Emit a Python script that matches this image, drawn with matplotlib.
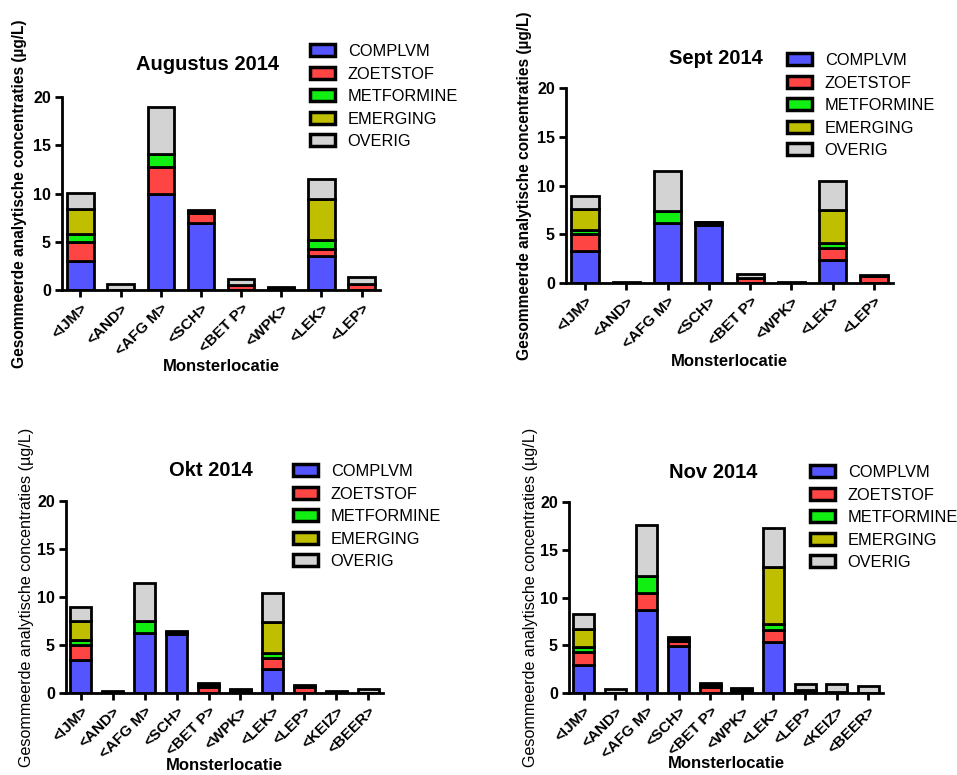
import numpy as np
import matplotlib
matplotlib.use('Agg')
import matplotlib.pyplot as plt
from matplotlib.patches import Patch

plt.rcParams['font.family'] = ['Liberation Sans', 'DejaVu Sans']

# Categories and series
groups = ['COMPLVM', 'ZOETSTOF', 'METFORMINE', 'EMERGING', 'OVERIG']
colors = ['#5555FF', '#FF4444', '#11EE11', '#BFBF00', '#D3D3D3']

loc8 = ['<IJM>', '<AND>', '<AFG M>', '<SCH>', '<BET P>', '<WPK>', '<LEK>', '<LEP>']
loc10 = loc8 + ['<KEIZ>', '<BEER>']

# Augustus 2014
aug_complvm = [3.0, 0.0, 10.0, 6.9, 0.05, 0.1, 3.5, 0.0]
aug_zoetstof = [2.0, 0.05, 2.7, 1.05, 0.45, 0.1, 0.8, 0.6]
aug_metformine = [0.8, 0.0, 1.4, 0.1, 0.0, 0.0, 0.9, 0.0]
aug_emerging = [2.6, 0.0, 0.0, 0.1, 0.0, 0.0, 4.25, 0.0]
aug_overig = [1.7, 0.55, 4.9, 0.15, 0.6, 0.1, 2.05, 0.7]

# Sept 2014
sep_complvm = [3.3, 0.0, 6.15, 6.0, 0.05, 0.0, 2.4, 0.0]
sep_zoetstof = [1.7, 0.05, 0.05, 0.1, 0.45, 0.05, 1.2, 0.7]
sep_metformine = [0.45, 0.0, 1.15, 0.1, 0.0, 0.0, 0.5, 0.0]
sep_emerging = [2.1, 0.0, 0.0, 0.05, 0.0, 0.0, 3.35, 0.0]
sep_overig = [1.35, 0.05, 4.15, 0.05, 0.4, 0.05, 3.05, 0.1]

# Okt 2014
okt_complvm = [3.45, 0.0, 6.2, 6.1, 0.05, 0.1, 2.5, 0.0, 0.0, 0.0]
okt_zoetstof = [1.55, 0.1, 0.05, 0.1, 0.55, 0.1, 1.1, 0.65, 0.1, 0.0]
okt_metformine = [0.5, 0.0, 1.2, 0.1, 0.1, 0.1, 0.55, 0.0, 0.0, 0.0]
okt_emerging = [2.0, 0.0, 0.0, 0.05, 0.1, 0.0, 3.2, 0.0, 0.0, 0.0]
okt_overig = [1.5, 0.1, 4.05, 0.1, 0.2, 0.1, 3.1, 0.15, 0.1, 0.4]

# Nov 2014
nov_complvm = [2.9, 0.0, 8.7, 4.9, 0.05, 0.1, 5.3, 0.0, 0.0, 0.0]
nov_zoetstof = [1.4, 0.0, 1.75, 0.5, 0.55, 0.1, 1.3, 0.3, 0.05, 0.0]
nov_metformine = [0.5, 0.0, 1.75, 0.15, 0.1, 0.1, 0.6, 0.0, 0.05, 0.0]
nov_emerging = [1.9, 0.0, 0.0, 0.1, 0.1, 0.1, 5.95, 0.0, 0.0, 0.0]
nov_overig = [1.55, 0.4, 5.35, 0.2, 0.25, 0.15, 4.1, 0.6, 0.8, 0.75]

panels = [
    ('Augustus 2014', loc8, [aug_complvm, aug_zoetstof, aug_metformine, aug_emerging, aug_overig]),
    ('Sept 2014', loc8, [sep_complvm, sep_zoetstof, sep_metformine, sep_emerging, sep_overig]),
    ('Okt 2014', loc10, [okt_complvm, okt_zoetstof, okt_metformine, okt_emerging, okt_overig]),
    ('Nov 2014', loc10, [nov_complvm, nov_zoetstof, nov_metformine, nov_emerging, nov_overig]),
]

W, H = 957, 775
fig = plt.figure(figsize=(W / 100, H / 100), dpi=100)

# axes boxes in pixels: left, top(y=20), right, bottom(y=0)
boxes = [(62, 97, 380, 290), (566, 88, 893, 283), (66, 501, 383, 693), (569, 502, 883, 693)]
title_pos = [(207, 65), (716, 58), (211, 470), (713, 472)]
legend_pos = [(310, 44), (787, 53), (293, 464), (810, 465)]
xlabel_y = [366, 362, 765, 764]
ylabel_x = [20, 525, 27, 530]
ylabel_bold = [True, True, False, False]

for i, (title, locs, series) in enumerate(panels):
    l, t, r, b = boxes[i]
    ax = fig.add_axes([l / W, 1 - b / H, (r - l) / W, (b - t) / H])
    x = np.arange(len(locs))
    bottom = np.zeros(len(locs))
    for vals, c in zip(series, colors):
        ax.bar(x, vals, bottom=bottom, width=0.66, color=c, edgecolor='black', linewidth=2)
        bottom += np.array(vals)

    ax.set_ylim(0, 20)
    ax.set_xlim(-0.46, len(locs) - 0.54)
    ax.set_yticks([0, 5, 10, 15, 20])
    ax.set_xticks(x)
    ax.set_xticklabels(locs, rotation=45, ha='right', rotation_mode='anchor',
                       fontsize=11, fontweight='bold')
    for lab in ax.get_yticklabels():
        lab.set_fontsize(11.5)
        lab.set_fontweight('bold')
    ax.spines['top'].set_visible(False)
    ax.spines['right'].set_visible(False)
    ax.spines['left'].set_linewidth(2)
    ax.spines['bottom'].set_linewidth(2)
    ax.tick_params(width=2, length=5, direction='out', pad=3)

    ax.set_xlabel('Monsterlocatie', fontsize=12, fontweight='bold', va='center')
    ax.xaxis.set_label_coords(0.5, (b - xlabel_y[i]) / (b - t))
    ax.set_ylabel('Gesommeerde analytische concentraties (µg/L)',
                  fontsize=11.2 if ylabel_bold[i] else 11.6,
                  fontweight='bold' if ylabel_bold[i] else 'normal', va='center')
    ax.yaxis.set_label_coords((ylabel_x[i] - l) / (r - l), 0.5)

    tx, ty = title_pos[i]
    fig.text(tx / W, 1 - ty / H, title, fontsize=14.5, fontweight='bold',
             ha='center', va='center')

    handles = [Patch(facecolor=c, edgecolor='black', linewidth=2.5) for c in colors]
    lx, ly = legend_pos[i]
    fig.legend(handles, groups, loc='upper left', bbox_to_anchor=(lx / W, 1 - ly / H),
               frameon=False, fontsize=11.8, handlelength=1.5, handleheight=0.75,
               labelspacing=0.46, handletextpad=0.8, borderpad=0, borderaxespad=0)

fig.savefig('out.png', dpi=100)
